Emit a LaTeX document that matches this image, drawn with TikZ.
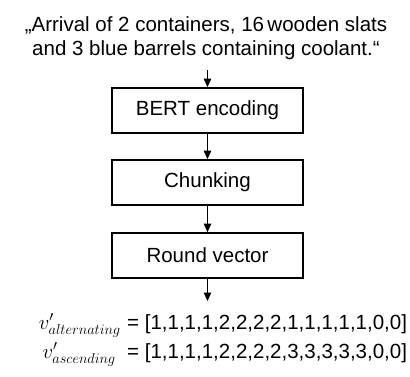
\documentclass[tikz,border=0pt]{standalone}
\usepackage{fontspec}
\setmainfont{Liberation Sans}
\usetikzlibrary{arrows.meta}
\begin{document}
\begin{tikzpicture}[x=1pt,y=-1pt,
  every node/.style={font=\fontsize{20.5}{24}\selectfont, inner sep=0pt},
  mathlabel/.style={font=\fontsize{22}{26}\selectfont, anchor=base east},
  stepbox/.style={draw, line width=1.8pt, minimum width=191pt, minimum height=45pt},
  flow/.style={line width=1.2pt, -{Triangle[width=7.5pt,length=8.5pt]}}]
\useasboundingbox (0,0) rectangle (410,376);
\node[anchor=base] (q1) at (206,31) {„Arrival of 2 containers, 16\,wooden slats};
\node[anchor=base] (q2) at (206,55) {and 3 blue barrels containing coolant.“};
\coordinate (s) at (207.5,70);
\node[stepbox] (b1) at (207.5,110.5) {BERT encoding};
\node[stepbox] (b2) at (207.5,182.5) {Chunking};
\node[stepbox] (b3) at (207.5,255.5) {Round vector};
\coordinate (e) at (207.5,301);
\draw[flow] (s) -- (b1.north);
\draw[flow] (b1) -- (b2);
\draw[flow] (b2) -- (b3);
\draw[flow] (b3) -- (e);
\node[mathlabel] (l1) at (121,329) {$v'_{alternating}$};
\node[anchor=base west] (r1) at (127,329) {= [1,1,1,1,2,2,2,2,1,1,1,1,1,0,0]};
\node[mathlabel] (l2) at (116,358) {$v'_{ascending}$};
\node[anchor=base west] (r2) at (127,358) {= [1,1,1,1,2,2,2,2,3,3,3,3,3,0,0]};
\end{tikzpicture}
\end{document}
